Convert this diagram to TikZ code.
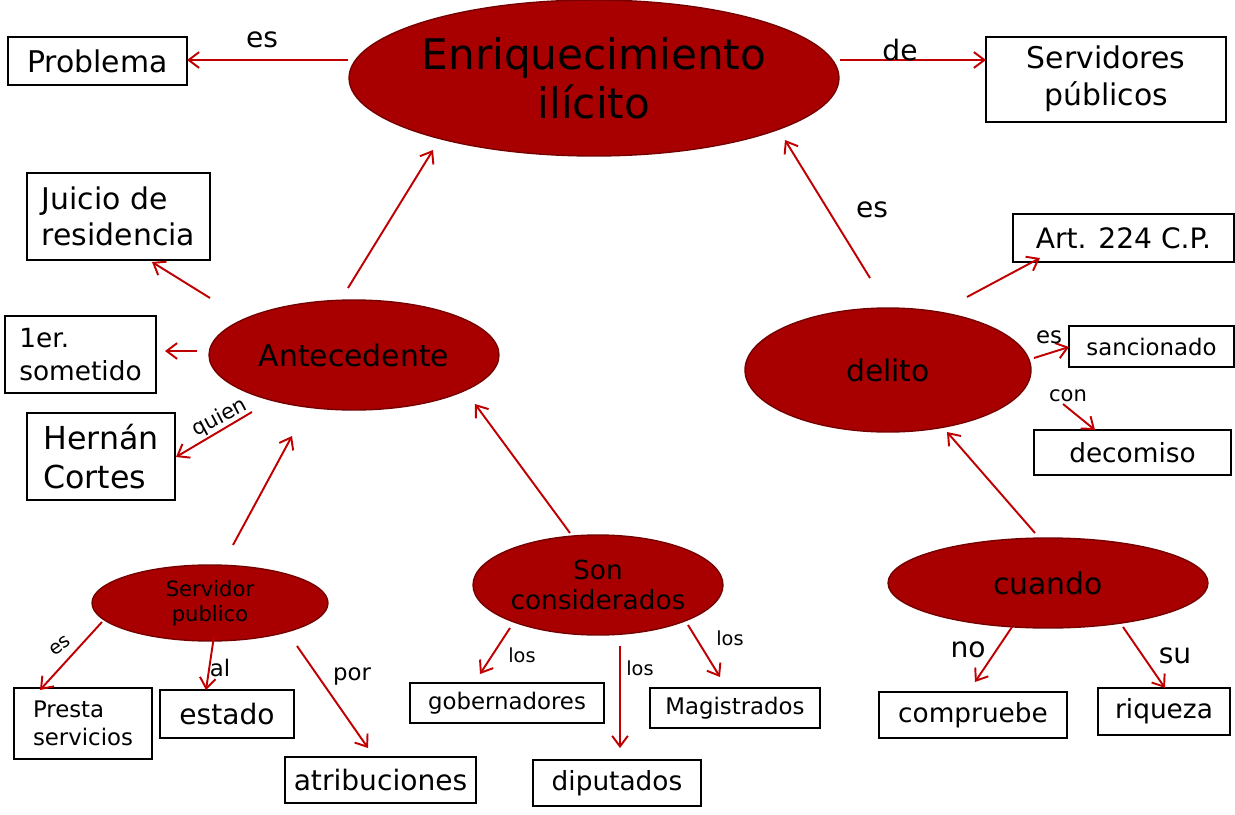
\documentclass[tikz,border=0pt]{standalone}
\usepackage{fontspec}
\setmainfont{DejaVu Sans}
\usetikzlibrary{shapes.geometric,arrows.meta}
\definecolor{ell}{HTML}{A80000}
\definecolor{arr}{HTML}{C00000}
\begin{document}
\begin{tikzpicture}[x=0.02cm,y=-0.02cm,
  ov/.style={ellipse,fill=ell,draw=ell!70!black,line width=0.8pt,inner sep=0pt,align=center},
  bx/.style={draw=black,line width=0.8pt,fill=white,inner sep=0pt,align=left},
  ar/.style={draw=arr,line width=1.1pt,-{Straight Barb[length=6pt,width=9pt]}},
  lb/.style={inner sep=0pt}]
\useasboundingbox (0,0) rectangle (1235,815);
% ellipses
\node[ov,minimum width=9.8cm,minimum height=3.12cm,font=\fontsize{24}{28}\selectfont] (main) at (594,78) {Enriquecimiento\\ilícito};
\node[ov,minimum width=5.8cm,minimum height=2.2cm,font=\fontsize{17}{20}\selectfont] (ant) at (354,355) {Antecedente};
\node[ov,minimum width=5.72cm,minimum height=2.48cm,font=\fontsize{17}{20}\selectfont] (del) at (888,370) {delito};
\node[ov,minimum width=4.72cm,minimum height=1.52cm,font=\fontsize{12}{14}\selectfont] (sp) at (210,603) {Servidor\\publico};
\node[ov,minimum width=5cm,minimum height=2cm,font=\fontsize{15}{17}\selectfont] (son) at (598,585) {Son\\considerados};
\node[ov,minimum width=6.4cm,minimum height=1.8cm,font=\fontsize{17}{20}\selectfont] (cua) at (1048,583) {cuando};
% boxes
\newcommand\bxat[6]{\node[bx,minimum width={(#3-#1)*0.02cm},minimum height={(#4-#2)*0.02cm},font=\fontsize{#6pt}{1.22\dimexpr#6pt\relax}\selectfont] (#5) at ({(#1+#3)/2},{(#2+#4)/2})}
\bxat{8}{37}{187}{85}{prob}{17}{Problema};
\bxat{986}{37}{1226}{122}{serv}{17}{\begin{tabular}{@{}c@{}}Servidores\\públicos\end{tabular}};
\bxat{27}{173}{210}{260}{jui}{17}{Juicio de\\residencia};
\bxat{5}{316}{156}{393}{ler}{15}{1er.\\sometido};
\bxat{27}{413}{175}{500}{her}{18}{Hernán\\Cortes};
\bxat{1013}{214}{1234}{262}{art}{16}{Art. 224 C.P.};
\bxat{1069}{326}{1234}{367}{san}{13}{sancionado};
\bxat{1034}{430}{1231}{475}{dec}{15}{decomiso};
\bxat{14}{688}{152}{759}{pre}{13}{Presta\\servicios};
\bxat{160}{690}{294}{738}{est}{16}{estado};
\bxat{285}{757}{476}{803}{atr}{16}{atribuciones};
\bxat{410}{683}{604}{723}{gob}{13}{gobernadores};
\bxat{533}{760}{701}{806}{dip}{15}{diputados};
\bxat{650}{688}{820}{728}{mag}{13}{Magistrados};
\bxat{879}{692}{1067}{738}{com}{15}{compruebe};
\bxat{1098}{688}{1230}{735}{riq}{15}{riqueza};
% arrow end coordinates
\foreach \n/\x/\y in {a1/348/60,a2/187/60,b1/840/60,b2/986/60,c1/348/288,c2/433/150,
  d1/870/278,d2/785/140,e1/210/298,e2/152/262,f1/197/351,f2/165/351,g1/252/412,g2/176/457,
  h1/967/297,h2/1040/258,i1/1034/358,i2/1069/347,j1/1063/404,j2/1095/430,
  k1/233/545,k2/292/436,l1/570/533,l2/475/404,m1/1035/533,m2/947/432,
  n1/102/622,n2/40/690,o1/214/636,o2/206/690,p1/297/646,p2/368/748,
  q1/510/628,q2/480/674,r1/620/646,r2/620/748,s1/688/625,s2/720/677,
  t1/1012/627,t2/975/682,u1/1123/627,u2/1165/688}
  {\coordinate (\n) at (\x,\y);}
\foreach \s in {a,b,c,d,e,f,g,h,i,j,k,l,m,n,o,p,q,r,s,t,u}
  {\draw[ar] (\s1) -- (\s2);}
% labels
\node[lb,font=\fontsize{16}{18}\selectfont] (la) at (262,40) {es};
\node[lb,font=\fontsize{16}{18}\selectfont] (lb2) at (900,50) {de};
\node[lb,font=\fontsize{16}{18}\selectfont] (ld) at (872,210) {es};
\node[lb,font=\fontsize{12}{14}\selectfont,rotate=28] (lg) at (220,418) {quien};
\node[lb,font=\fontsize{13}{14}\selectfont\rmfamily] (li) at (1049,337) {es};
\node[lb,font=\fontsize{12}{14}\selectfont] (lj) at (1068,396) {con};
\node[lb,font=\fontsize{11}{13}\selectfont,rotate=35] (ln) at (60,646) {es};
\node[lb,font=\fontsize{13}{14}\selectfont] (lo) at (220,668) {al};
\node[lb,font=\fontsize{13}{14}\selectfont] (lp) at (352,676) {por};
\node[lb,font=\fontsize{11}{13}\selectfont] (lq) at (522,655) {los};
\node[lb,font=\fontsize{11}{13}\selectfont] (lr) at (640,668) {los};
\node[lb,font=\fontsize{11}{13}\selectfont] (ls) at (730,638) {los};
\node[lb,font=\fontsize{16}{18}\selectfont] (lt) at (968,650) {no};
\node[lb,font=\fontsize{16}{18}\selectfont] (lu) at (1175,656) {su};
\end{tikzpicture}
\end{document}
